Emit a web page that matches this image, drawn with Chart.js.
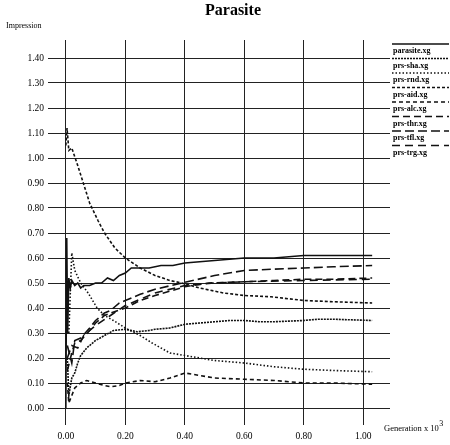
<!DOCTYPE html>
<html>
<head>
<meta charset="utf-8">
<script src="https://cdn.jsdelivr.net/npm/chart.js@4/dist/chart.umd.min.js"></script>
<style>
  html, body { margin: 0; padding: 0; background: #fff; }
  #wrap { width: 450px; height: 445px; position: relative; }
</style>
</head>
<body>
<div id="wrap"><canvas id="c"></canvas></div>
<script>
// Parasite: середня "impression" по поколіннях для восьми прогонів.

const X_TICKS = [0, 0.2, 0.4, 0.6, 0.8, 1.0];
const Y_TICKS = [0, 0.1, 0.2, 0.3, 0.4, 0.5, 0.6, 0.7, 0.8, 0.9, 1.0, 1.1, 1.2, 1.3, 1.4];

const LABELS = ["parasite.xg", "prs-sha.xg", "prs-rnd.xg", "prs-aid.xg",
                "prs-alc.xg", "prs-thr.xg", "prs-tfl.xg", "prs-trg.xg"];

// parasite.xg (суцільна, верхня)
const parasiteX = [0, 0.003, 0.006, 0.01, 0.015, 0.02, 0.03, 0.04, 0.05, 0.06, 0.08, 0.10, 0.12, 0.14, 0.16, 0.18,
                   0.20, 0.22, 0.25, 0.28, 0.32, 0.36, 0.40, 0.50, 0.60, 0.70, 0.80, 0.90, 1.03];
const parasiteY = [0.0, 0.68, 0.30, 0.52, 0.48, 0.51, 0.49, 0.50, 0.48, 0.49, 0.49, 0.50, 0.50, 0.52, 0.51, 0.53,
                   0.54, 0.56, 0.56, 0.56, 0.57, 0.57, 0.58, 0.59, 0.60, 0.60, 0.61, 0.61, 0.61];
// prs-sha.xg (біля 0.35)
const shaX = [0.005, 0.01, 0.02, 0.03, 0.04, 0.05, 0.07, 0.10, 0.13, 0.16, 0.20, 0.24, 0.28, 0.30, 0.35, 0.40,
              0.50, 0.55, 0.60, 0.65, 0.70, 0.80, 0.85, 0.90, 1.03];
const shaY = [0.20, 0.05, 0.12, 0.14, 0.18, 0.21, 0.24, 0.27, 0.29, 0.31, 0.315, 0.305, 0.31, 0.315, 0.32, 0.335,
              0.345, 0.35, 0.35, 0.345, 0.345, 0.35, 0.355, 0.355, 0.35];
// prs-rnd.xg (з 0.62 вниз до 0.14)
const rndX = [0.01, 0.02, 0.03, 0.05, 0.075, 0.105, 0.13, 0.16, 0.20, 0.25, 0.29, 0.35, 0.40, 0.50, 0.60,
              0.70, 0.80, 0.90, 1.03];
const rndY = [0.30, 0.62, 0.55, 0.50, 0.46, 0.40, 0.37, 0.35, 0.32, 0.29, 0.26, 0.22, 0.21, 0.19, 0.18,
              0.165, 0.155, 0.15, 0.145];
// prs-aid.xg (з 1.1 вниз до 0.42)
const aidX = [0, 0.004, 0.01, 0.02, 0.04, 0.064, 0.08, 0.108, 0.13, 0.165, 0.20, 0.25, 0.30, 0.35, 0.39,
              0.45, 0.53, 0.60, 0.69, 0.80, 0.90, 1.03];
const aidY = [1.05, 1.12, 1.03, 1.04, 0.97, 0.88, 0.82, 0.75, 0.70, 0.64, 0.60, 0.56, 0.53, 0.51, 0.50,
              0.48, 0.46, 0.45, 0.445, 0.43, 0.425, 0.42];
// prs-alc.xg (біля 0.10)
const alcX = [0.005, 0.01, 0.02, 0.03, 0.05, 0.07, 0.10, 0.13, 0.15, 0.18, 0.20, 0.25, 0.30, 0.35, 0.40,
              0.45, 0.50, 0.60, 0.70, 0.80, 0.90, 1.03];
const alcY = [0.10, 0.02, 0.05, 0.08, 0.10, 0.11, 0.10, 0.09, 0.085, 0.09, 0.10, 0.11, 0.105, 0.12, 0.14,
              0.13, 0.12, 0.115, 0.11, 0.10, 0.10, 0.095];
// prs-thr.xg (до 0.52)
const thrX = [0.005, 0.02, 0.03, 0.05, 0.08, 0.10, 0.13, 0.15, 0.20, 0.25, 0.30, 0.40, 0.48, 0.60, 0.70,
              0.80, 0.90, 1.03];
const thrY = [0.15, 0.22, 0.26, 0.27, 0.31, 0.34, 0.37, 0.38, 0.40, 0.43, 0.45, 0.485, 0.50, 0.505, 0.51,
              0.515, 0.515, 0.52];
// prs-tfl.xg (до 0.57)
const tflX = [0.005, 0.02, 0.03, 0.05, 0.08, 0.10, 0.13, 0.15, 0.18, 0.20, 0.25, 0.30, 0.39, 0.50, 0.60,
              0.69, 0.80, 0.90, 1.03];
const tflY = [0.25, 0.18, 0.27, 0.28, 0.32, 0.35, 0.38, 0.39, 0.42, 0.43, 0.455, 0.475, 0.50, 0.53, 0.55,
              0.555, 0.56, 0.565, 0.57];
// prs-trg.xg (поруч із prs-thr)
const trgX = [0.005, 0.02, 0.04, 0.06, 0.10, 0.15, 0.20, 0.30, 0.40, 0.50, 0.60, 0.80, 1.03];
const trgY = [0.20, 0.25, 0.24, 0.29, 0.33, 0.37, 0.41, 0.46, 0.49, 0.50, 0.505, 0.51, 0.515];

const SERIES_X = [parasiteX, shaX, rndX, aidX, alcX, thrX, tflX, trgX];
const SERIES_Y = [parasiteY, shaY, rndY, aidY, alcY, thrY, tflY, trgY];
const DASHES = [[], [2, 1], [1.5, 2], [3, 2], [4, 3], [7, 4], [9, 4], [8, 5]];

const FONT = "'Liberation Serif', 'DejaVu Serif', serif";

const datasets = LABELS.map((label, i) => ({
  label,
  data: SERIES_X[i].map((x, j) => ({ x, y: SERIES_Y[i][j] })),
  borderColor: "#111",
  borderWidth: 1.6,
  borderDash: DASHES[i],
  pointRadius: 0,
  tension: 0,
  fill: false,
}));

// Заголовок, підписи осей та легенда праворуч
const decorations = {
  id: "decorations",
  afterDraw(chart) {
    const ctx = chart.ctx;
    ctx.save();
    ctx.fillStyle = "#000";
    ctx.font = `bold 16px ${FONT}`;
    ctx.textAlign = "center";
    ctx.textBaseline = "alphabetic";
    ctx.fillText("Parasite", 233, 15);

    ctx.font = `8px ${FONT}`;
    ctx.textAlign = "left";
    ctx.fillText("Impression", 6, 28);

    const gen = "Generation x 10";
    ctx.font = `8.5px ${FONT}`;
    ctx.fillText(gen, 384, 431);
    const w = ctx.measureText(gen).width;
    ctx.font = `8px ${FONT}`;
    ctx.fillText("3", 384 + w + 0.5, 426);

    ctx.strokeStyle = "#111";
    ctx.lineWidth = 1.3;
    ctx.font = `bold 8px ${FONT}`;
    LABELS.forEach((label, i) => {
      const y = 44 + i * 14.5;
      ctx.setLineDash(DASHES[i]);
      ctx.beginPath();
      ctx.moveTo(392, y);
      ctx.lineTo(449, y);
      ctx.stroke();
      ctx.fillText(label, 393, y + 9);
    });
    ctx.restore();
  },
};

new Chart(document.getElementById("c"), {
  type: "line",
  data: { datasets },
  plugins: [decorations],
  options: {
    responsive: true,
    maintainAspectRatio: false,
    animation: false,
    layout: { padding: { left: 0, top: 40, right: 60, bottom: 0 } },
    scales: {
      x: {
        type: "linear",
        min: -0.06,
        max: 1.09,
        afterBuildTicks: (s) => { s.ticks = X_TICKS.map(v => ({ value: v })); },
        afterFit: (s) => { s.height = 20; },
        ticks: { color: "#000", font: { family: FONT, size: 9.5 }, padding: 6,
                 maxRotation: 0, callback: v => v.toFixed(2) },
        grid: { color: "#222", lineWidth: 1, drawTicks: false },
        border: { display: false },
      },
      y: {
        type: "linear",
        min: -0.068,
        max: 1.472,
        afterBuildTicks: (s) => { s.ticks = Y_TICKS.map(v => ({ value: v })); },
        afterFit: (s) => { s.width = 48; },
        ticks: { color: "#000", font: { family: FONT, size: 9.5 }, padding: 4,
                 callback: v => v.toFixed(2) },
        grid: { color: "#222", lineWidth: 1, drawTicks: false },
        border: { display: false },
      },
    },
    plugins: {
      legend: { display: false },
      tooltip: { enabled: false },
    },
  },
});
</script>
</body>
</html>
